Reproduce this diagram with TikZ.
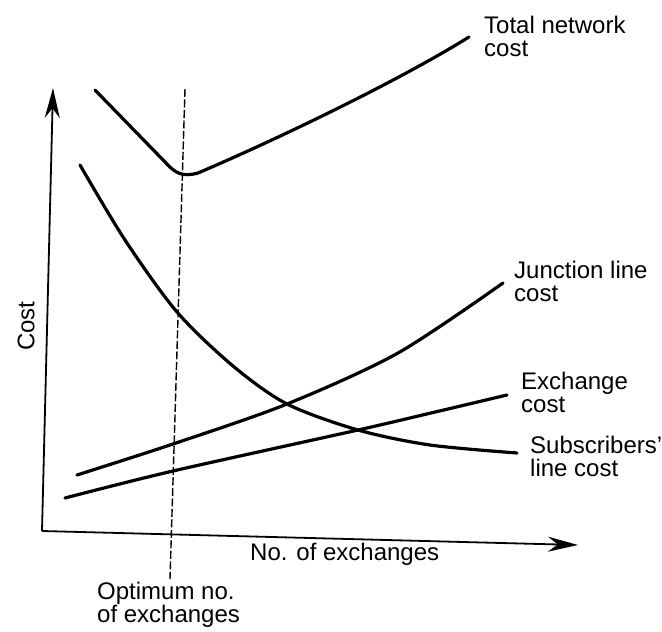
\documentclass[tikz,border=0pt]{standalone}
\usepackage{fontspec}
\setmainfont{Liberation Sans}
\usetikzlibrary{arrows.meta}

\begin{document}
\begin{tikzpicture}[x=1pt,y=-1pt]
		\tikzstyle{Curve}=[line width=3.2pt,line cap=round,line join=round]
		\tikzstyle{Axis}=[line width=1.8pt,-{Stealth[length=30pt,width=15pt]}]
		%\tikzstyle{Guide}=[dashed]
		\tikzstyle{Guide}=[line width=1.4pt,dash pattern=on 8pt off 2.5pt]
		\tikzstyle{LabelStyle}=[inner sep=0pt,align=left,anchor=west,
		  font=\fontsize{24}{23}\selectfont]
		\useasboundingbox (0,0) rectangle (662,632);
		% axes
		\coordinate (O) at (42,531);
		\coordinate (Ytip) at (53,88);
		\coordinate (Xtip) at (578,545);
		\draw[Axis] (O) -- (Ytip);
		\draw[Axis] (O) -- (Xtip);
		% optimum
		\coordinate (OptTop) at (185,89);
		\coordinate (OptBot) at (170,579);
		\draw[Guide] (OptTop) -- (OptBot);
		% cost curves
		\draw[Curve] (95,90) -- (166,163) .. controls (176,174) and (183,177) .. (198,173)
		  .. controls (280,138) and (400,80) .. (469,37);
		\draw[Curve] plot[smooth] coordinates {(80,165) (125,240) (177,312)
		  (233,366) (287,404) (358,430) (430,445) (517,453)};
		\draw[Curve] plot[smooth] coordinates {(77,475) (173,444) (287,404)
		  (398,353) (503,283)};
		\draw[Curve] plot[smooth] coordinates {(65,498) (173,471) (358,430) (431,413) (507,395)};
		% labels
		\node[LabelStyle] (Total) at (484,36) {Total network\\cost};
		\node[LabelStyle] (Junction) at (514,281) {Junction line\\cost};
		\node[LabelStyle] (Exchange) at (521,392) {Exchange\\cost};
		\node[LabelStyle] (Subscribers) at (530,456) {Subscribers'\\line cost};
		\node[LabelStyle] (Xlabel) at (250,554) {No. of exchanges};
		\node[LabelStyle] (Optimum) at (97,605) {Optimum no.\\of exchanges};
		\node[LabelStyle,anchor=center,rotate=90] (Ylabel) at (26,326) {Cost};
		%\node[LabelStyle] (Mark) at (0,0) {};
	\end{tikzpicture}
\end{document}
